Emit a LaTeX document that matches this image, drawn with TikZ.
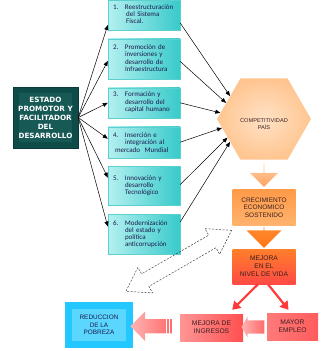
\documentclass[tikz,border=0pt]{standalone}
\usepackage{fontspec}
\setmainfont{Liberation Sans}
\newfontfamily\boxfont{Carlito}
\newfontfamily\estfont{DejaVu Sans}
\usetikzlibrary{positioning, arrows.meta, calc, shapes.geometric, shapes.arrows}
\definecolor{cyanL}{HTML}{B4F0F0}
\definecolor{cyanD}{HTML}{38CACA}
\definecolor{cyanE}{HTML}{5CCFCF}
\definecolor{navytext}{HTML}{1B1B4D}
\definecolor{tealdark}{HTML}{0D4C49}
\definecolor{tealmid}{HTML}{175955}
\definecolor{tealedge}{HTML}{0A3B39}
\definecolor{peachO}{HTML}{FFC590}
\definecolor{peachI}{HTML}{FFE2C6}
\definecolor{orgAT}{HTML}{FFD2A8}
\definecolor{orgAB}{HTML}{FFA060}
\definecolor{crecT}{HTML}{FF9A48}
\definecolor{crecB}{HTML}{FFB36E}
\definecolor{orgBT}{HTML}{FF8A2E}
\definecolor{orgBB}{HTML}{FF7518}
\definecolor{vidaT}{HTML}{FF7F2A}
\definecolor{vidaB}{HTML}{FF4A45}
\definecolor{redline}{HTML}{FF3B3B}
\definecolor{ingL}{HTML}{FF9595}
\definecolor{ingR}{HTML}{FF4F4F}
\definecolor{empL}{HTML}{FF7A7A}
\definecolor{empR}{HTML}{FF5C5C}
\definecolor{pinkL}{HTML}{FFB4B4}
\definecolor{pinkR}{HTML}{FF6A6A}
\definecolor{cyanO}{HTML}{22C8FF}
\definecolor{cyanI}{HTML}{5AD6FF}
\definecolor{darktext}{HTML}{3A2020}
\newcommand{\polist}[2]{\begin{tabular}{@{}p{12pt}@{}l@{}}#1&#2\end{tabular}}
\tikzset{
  inset/.style 2 args={path picture={\fill[#1] ($(path picture bounding box.south west)+(#2,-#2)$)
    rectangle ($(path picture bounding box.north east)+(-#2,#2)$);}},
  estbox/.style={draw=tealedge, fill=tealdark, inset={tealmid}{6}, text=white, align=center,
    font=\estfont\bfseries\fontsize{7.2}{9}\selectfont, minimum width=65pt, minimum height=61pt, inner sep=1pt},
  polbox/.style={draw=cyanE, line width=0.4pt, left color=cyanL, right color=cyanD, text=navytext,
    font=\boxfont\fontsize{7}{7.3}\selectfont, text width=62pt, inner xsep=5pt, inner ysep=0pt, align=left},
  hexbox/.style={regular polygon, regular polygon sides=6, minimum size=94pt, inner sep=0pt,
    inner color=peachI, outer color=peachO},
  resbox/.style={align=center, inner sep=1pt, font=\fontsize{6.5}{7.8}\selectfont, text=darktext},
  thinarr/.style={-{Triangle[length=5pt, width=4pt]}, line width=0.5pt},
  redarr/.style={-{Triangle[length=8pt, width=10pt]}, draw=redline, line width=2.2pt},
  blockarr/.style={single arrow, inner xsep=0pt, draw=none},
}
\begin{document}
\begin{tikzpicture}[x=1pt, y=-1pt, node distance=8.5pt]
\useasboundingbox (0,0) rectangle (330,351);
% left block
\node[estbox] (est) at (45.5,117.5) {ESTADO\\PROMOTOR Y\\FACILITADOR\\DEL\\DESARROLLO};
% policy boxes
\node[polbox, minimum height=30pt] (b1) at (144,15) {\polist{1.}{Reestructuración\\&\,del Sistema\\&\,Fiscal.}};
\node[polbox, minimum height=40pt, below=of b1] (b2) {\polist{2.}{Promoción de\\&inversiones y\\&desarrollo de\\&Infraestructura}};
\node[polbox, minimum height=30pt, below=of b2] (b3) {\polist{3.}{Formación y\\&desarrollo del\\&capital humano}};
\node[polbox, minimum height=31pt, below=of b3] (b4) {\polist{4.}{Inserción e\\&integración al}\\[-0.5pt]\hspace*{2pt}mercado\ \ Mundial};
\node[polbox, minimum height=39pt, below=of b4] (b5) {\polist{5.}{Innovación y\\&desarrollo\\&Tecnológico}};
\node[polbox, minimum height=40pt, below=of b5] (b6) {\polist{6.}{Modernización\\&del estado y\\&política\\&anticorrupción}};
% competitividad
\node[hexbox] (hex) at (264,119) {};
\node[resbox, font=\fontsize{5.6}{7.5}\selectfont] (hextxt) at ([yshift=-5pt]hex.center) {COMPETITIVIDAD\\PAÍS};
% result chain
\node[resbox, minimum width=63pt, minimum height=36pt, top color=crecT, bottom color=crecB, below=29.5pt of hex] (crec) {CRECIMIENTO\\ECONOMICO\\SOSTENIDO};
\node[resbox, minimum width=63pt, minimum height=35pt, top color=vidaT, bottom color=vidaB, below=23pt of crec, font=\fontsize{6.7}{8}\selectfont] (vida) {MEJORA\\EN EL\\NIVEL DE VIDA};
\node[resbox, minimum width=63pt, minimum height=27pt, left color=ingL, right color=ingR, font=\fontsize{6.7}{8}\selectfont] (ing) at (211.5,327.5) {MEJORA DE\\INGRESOS};
\node[resbox, minimum width=51pt, minimum height=27pt, left color=empL, right color=empR, font=\fontsize{6.7}{8}\selectfont] (emp) at (292.5,326.5) {MAYOR\\EMPLEO};
\node[resbox, minimum width=68pt, minimum height=46pt, fill=cyanO, inset={cyanI}{7}, text=navytext, font=\fontsize{6.4}{7.4}\selectfont] (red) at (99,325) {REDUCCION\\DE LA\\POBREZA};
% connectors
\foreach \b/\s in {b1/-10, b2/-2, b3/0, b4/3.5, b5/8.5, b6/8}
  \draw[thinarr] (est.east) -- ([yshift=\s pt]\b.west);
\foreach \b/\s/\a in {b1/-8/146, b2/-2.5/157, b3/0/172, b4/0/192, b5/1.5/207, b6/12.5/214}
  \draw[thinarr] ([yshift=\s pt]\b.east) -- (hex.\a);
\node[blockarr, shape border rotate=270, inner ysep=8.5pt, minimum height=24pt, minimum width=28pt, single arrow head extend=5.5pt,
  top color=orgAT, bottom color=orgAB] (a1) at ($(hex.south)!0.5!(crec.north)$) {};
\node[blockarr, shape border rotate=270, inner ysep=7.5pt, minimum height=21pt, minimum width=35pt, single arrow head extend=10pt,
  top color=orgBT, bottom color=orgBB] (a2) at ($(crec.south)!0.5!(vida.north)$) {};
\draw[redarr] ([xshift=-6pt]vida.south) -- ([xshift=-11pt, yshift=4pt]ing.north east);
\draw[redarr] ([xshift=4pt]vida.south) -- ([xshift=-4pt, yshift=3pt]emp.north);
\node[blockarr, shape border rotate=180, inner ysep=6.5pt, minimum height=23pt, minimum width=20pt, single arrow head extend=3.5pt,
  single arrow tip angle=118, left color=pinkL, right color=pinkR] (a3) at ($(ing.east)!0.5!(emp.west)$) {};
\node[blockarr, shape border rotate=180, inner ysep=7pt, minimum height=42pt, minimum width=29pt, single arrow head extend=7.5pt,
  left color=pinkL, right color=pinkR] (a4) at ($(red.east)!0.5!(ing.west)+(-1.5,0)$) {};
\foreach \x in {3,6.5}
  \draw[white, line width=1.1pt] ([xshift=-\x pt, yshift=-8pt]a4.tail) -- ([xshift=-\x pt, yshift=8pt]a4.tail);
\node[double arrow, draw=black!75, dash pattern=on 2pt off 1.5pt, line width=0.5pt, rotate=30, inner xsep=0pt, inner ysep=7pt,
  minimum height=122pt, minimum width=29pt, double arrow head extend=7.5pt, double arrow tip angle=67]
  (a5) at ($(red.north east)!0.5!(crec.south west)+(-4,-3)$) {};
\end{tikzpicture}
\end{document}
